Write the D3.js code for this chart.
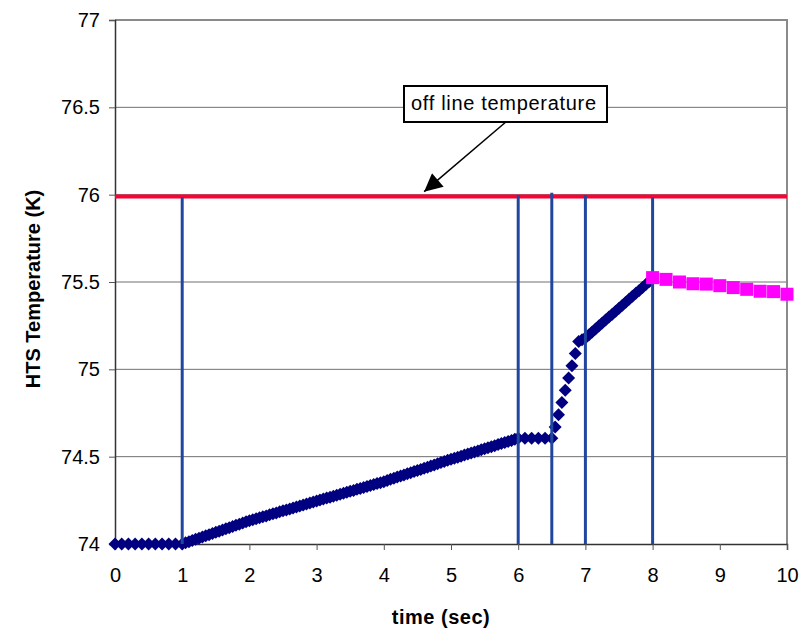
<!DOCTYPE html>
<html>
<head>
<meta charset="utf-8">
<script src="https://cdn.jsdelivr.net/npm/d3@7"></script>
<style>
  body { margin: 0; background: #fff; }
  text { font-family: Arial, "Liberation Sans", sans-serif; }
</style>
</head>
<body>
<div id="chart"></div>
<script>
// ---- data ----
// blue diamonds (HTS temperature, sections with their own sampling step)
let flatTime = d3.range(0, 1.001, 0.1);
let flatTemp = [74, 74, 74, 74, 74, 74, 74, 74, 74, 74, 74];

let rampTime = d3.range(1.05, 6.001, 0.05);
let rampTemp = [
  74.007, 74.013, 74.020, 74.027, 74.033, 74.040, 74.047, 74.053, 74.060, 74.067,
  74.073, 74.080, 74.087, 74.093, 74.100, 74.107, 74.113, 74.120, 74.127, 74.133,
  74.139, 74.144, 74.150, 74.156, 74.161, 74.167, 74.173, 74.178, 74.184, 74.190,
  74.195, 74.201, 74.206, 74.212, 74.218, 74.223, 74.229, 74.235, 74.240, 74.246,
  74.252, 74.257, 74.263, 74.268, 74.274, 74.279, 74.285, 74.290, 74.296, 74.302,
  74.307, 74.313, 74.318, 74.324, 74.329, 74.335, 74.340, 74.346, 74.351, 74.357,
  74.363, 74.370, 74.376, 74.383, 74.389, 74.395, 74.402, 74.408, 74.415, 74.421,
  74.427, 74.434, 74.440, 74.447, 74.453, 74.459, 74.466, 74.472, 74.479, 74.485,
  74.491, 74.497, 74.503, 74.509, 74.515, 74.521, 74.527, 74.533, 74.539, 74.545,
  74.551, 74.557, 74.563, 74.569, 74.575, 74.581, 74.587, 74.593, 74.599, 74.605
];

let holdTime = d3.range(6.1, 6.501, 0.1);
let holdTemp = [74.605, 74.605, 74.605, 74.605, 74.605];

let jumpTime = d3.range(6.55, 7.001, 0.05);
let jumpTemp = [74.67, 74.74, 74.81, 74.88, 74.95, 75.02, 75.09, 75.16, 75.17, 75.18];

let riseTime = d3.range(7.05, 8.001, 0.05);
let riseTemp = [
  75.197, 75.214, 75.231, 75.248, 75.265, 75.282, 75.299, 75.316, 75.333, 75.350,
  75.367, 75.384, 75.401, 75.418, 75.435, 75.452, 75.469, 75.486, 75.503, 75.520
];

// magenta squares after t = 8 s
let coolTime = d3.range(8, 10.001, 0.2);
let coolTemp = [75.525, 75.515, 75.50, 75.49, 75.488, 75.479, 75.468, 75.458, 75.447, 75.445, 75.43];

// red off line temperature
let offLineTime = [0, 10];
let offLineTemp = [75.99, 75.99];

// blue vertical event lines
let eventTime = [1, 6, 6.5, 7, 8];
let eventTop = [75.985, 75.998, 76.011, 75.998, 75.985];

let xTicks = [0, 1, 2, 3, 4, 5, 6, 7, 8, 9, 10];
let yTicks = [74, 74.5, 75, 75.5, 76, 76.5, 77];
let yTickLabels = ['74', '74.5', '75', '75.5', '76', '76.5', '77'];

// ---- chart ----
let width = 807, height = 631;
let margin = { top: 20, left: 115, right: 20, bottom: 87 };

let svg = d3.select('#chart')
  .append('svg')
    .attr('width', width)
    .attr('height', height);

let xScale = d3.scaleLinear()
  .domain([0, 10])
  .range([margin.left, width - margin.right]);

let yScale = d3.scaleLinear()
  .domain([74, 77])
  .range([height - margin.bottom, margin.top]);

// gridlines
svg.append('g')
  .selectAll('line')
  .data(yTicks.slice(1, -1))
  .join('line')
    .attr('x1', xScale(0))
    .attr('x2', xScale(10))
    .attr('y1', d => yScale(d))
    .attr('y2', d => yScale(d))
    .style('stroke', '#707070')
    .style('stroke-width', 1);

// top and right border of the plot area
svg.append('path')
  .attr('d', 'M' + xScale(0) + ',' + yScale(77) + 'H' + xScale(10) + 'V' + yScale(74))
  .style('fill', 'none')
  .style('stroke', '#8a8a8a')
  .style('stroke-width', 2);

// y axis
let yAxis = d3.axisLeft(yScale)
  .tickValues(yTicks)
  .tickFormat((d, i) => yTickLabels[i])
  .tickSize(6)
  .tickPadding(9);

let yg = svg.append('g')
  .attr('transform', 'translate(' + xScale(0) + ',0)')
  .call(yAxis);
yg.select('.domain').style('stroke', '#333').style('stroke-width', 1.5);
yg.selectAll('.tick line').style('stroke', '#555');
yg.selectAll('text').style('font-size', '20px').style('fill', '#000');

// x axis
let xAxis = d3.axisBottom(xScale)
  .tickValues(xTicks)
  .tickSize(6)
  .tickPadding(18);

let xg = svg.append('g')
  .attr('transform', 'translate(0,' + yScale(74) + ')')
  .call(xAxis);
xg.select('.domain').style('stroke', '#333').style('stroke-width', 1.5);
xg.selectAll('.tick line').style('stroke', '#555');
xg.selectAll('text').style('font-size', '20px').style('fill', '#000');

// axis titles
svg.append('text')
  .attr('x', (xScale(0) + xScale(10)) / 2 - 10)
  .attr('y', 624)
  .attr('text-anchor', 'middle')
  .style('font-size', '20px')
  .style('font-weight', 'bold')
  .style('letter-spacing', '0.5px')
  .text('time (sec)');

svg.append('text')
  .attr('transform', 'translate(40,289) rotate(-90)')
  .attr('text-anchor', 'middle')
  .style('font-size', '20px')
  .style('font-weight', 'bold')
  .text('HTS Temperature (K)');

// red off line temperature
let line = d3.line()
  .x(d => xScale(d[0]))
  .y(d => yScale(d[1]));

svg.append('path')
  .attr('d', line(d3.zip(offLineTime, offLineTemp)))
  .style('fill', 'none')
  .style('stroke', '#ff0033')
  .style('stroke-width', 4);

// blue diamonds
let blueData = d3.zip(
  flatTime.concat(rampTime, holdTime, jumpTime, riseTime),
  flatTemp.concat(rampTemp, holdTemp, jumpTemp, riseTemp)
);

let r = 6.5;
svg.append('g')
  .selectAll('path')
  .data(blueData)
  .join('path')
    .attr('transform', d => 'translate(' + xScale(d[0]) + ',' + yScale(d[1]) + ')')
    .attr('d', 'M0,' + (-r) + 'L' + r + ',0L0,' + r + 'L' + (-r) + ',0Z')
    .style('fill', '#000080');

// blue vertical event lines
svg.append('g')
  .selectAll('line')
  .data(d3.zip(eventTime, eventTop))
  .join('line')
    .attr('x1', d => xScale(d[0]))
    .attr('x2', d => xScale(d[0]))
    .attr('y1', yScale(74))
    .attr('y2', d => yScale(d[1]))
    .style('stroke', '#2146a0')
    .style('stroke-width', 3);

// magenta squares
let s = 13;
svg.append('g')
  .selectAll('rect')
  .data(d3.zip(coolTime, coolTemp))
  .join('rect')
    .attr('x', d => xScale(d[0]) - s / 2)
    .attr('y', d => yScale(d[1]) - s / 2)
    .attr('width', s)
    .attr('height', s)
    .style('fill', '#ff00ff');

// annotation
svg.append('defs')
  .append('marker')
    .attr('id', 'head')
    .attr('viewBox', '0 0 10 10')
    .attr('refX', 10)
    .attr('refY', 5)
    .attr('markerWidth', 24)
    .attr('markerHeight', 18)
    .attr('markerUnits', 'userSpaceOnUse')
    .attr('orient', 'auto')
  .append('path')
    .attr('d', 'M0,0L10,5L0,10Z')
    .style('fill', '#000');

svg.append('line')
  .attr('x1', 507)
  .attr('y1', 121)
  .attr('x2', xScale(4.6))
  .attr('y2', yScale(76) - 3)
  .style('stroke', '#000')
  .style('stroke-width', 1.5)
  .attr('marker-end', 'url(#head)');

svg.append('rect')
  .attr('x', 404)
  .attr('y', 86)
  .attr('width', 203)
  .attr('height', 36)
  .style('fill', '#fff')
  .style('stroke', '#000')
  .style('stroke-width', 2);

svg.append('text')
  .attr('x', 411)
  .attr('y', 110)
  .attr('textLength', 185)
  .style('font-size', '20px')
  .text('off line temperature');
</script>
</body>
</html>
